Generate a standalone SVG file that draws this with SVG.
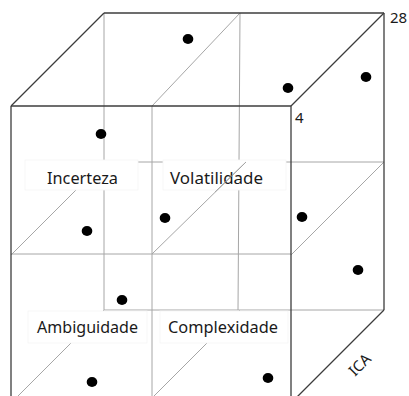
<svg xmlns="http://www.w3.org/2000/svg" width="409" height="396" viewBox="0 0 409 396">
<style>
.dk{stroke:#3c3c3c;stroke-width:1.3;fill:none}
.lt{stroke:#a6a6a6;stroke-width:1;fill:none}
.box{fill:#ffffff;stroke:#f4f4f4;stroke-width:0.8}
.lbl{font-family:"Noto Sans","Open Sans",sans-serif;font-size:16px;fill:#1a1a1a}
.num{font-family:"Noto Sans","Open Sans",sans-serif;font-size:15px;fill:#1a1a1a}
.dot{fill:#000}
</style>
<rect width="409" height="396" fill="#fff"/>
<g id="connectors">
  <line class="lt" x1="104" y1="13" x2="104" y2="310"/>
  <line class="lt" x1="240" y1="13" x2="238" y2="310"/>
  <line class="lt" x1="104" y1="162" x2="384" y2="162"/>
  <line class="lt" x1="104" y1="310" x2="384" y2="310"/>
  <line class="lt" x1="240" y1="13" x2="152" y2="106"/>
  <line class="lt" x1="104" y1="162" x2="11" y2="255"/>
  <line class="lt" x1="384" y1="162" x2="291" y2="255"/>
  <line class="lt" x1="104" y1="310" x2="11" y2="403"/>
  <line class="lt" x1="240" y1="310" x2="148" y2="402"/>
</g>
<g id="label-boxes">
  <rect class="box" x="25" y="160" width="113" height="30"/>
  <rect class="box" x="163" y="160" width="123" height="30"/>
  <rect class="box" x="28" y="311" width="119" height="32"/>
  <rect class="box" x="160" y="311" width="128" height="32"/>
</g>
<g id="front-lines">
  <line class="lt" x1="152" y1="106" x2="152" y2="396"/>
  <line class="lt" x1="11" y1="254" x2="291" y2="254"/>
  <line class="lt" x1="246" y1="162" x2="152" y2="254"/>
  <line class="dk" x1="104" y1="13" x2="384" y2="13"/>
  <line class="dk" x1="104" y1="13" x2="11" y2="106"/>
  <line class="dk" x1="384" y1="13" x2="291" y2="106"/>
  <line class="dk" x1="384" y1="13" x2="384" y2="310"/>
  <line class="dk" x1="384" y1="310" x2="291" y2="403"/>
  <line class="dk" x1="11" y1="106" x2="291" y2="106"/>
  <line class="dk" x1="11" y1="106" x2="11" y2="396"/>
  <line class="dk" x1="291" y1="106" x2="291" y2="396"/>
</g>
<g id="node-incerteza"><text class="lbl" x="47" y="184" textLength="71" lengthAdjust="spacingAndGlyphs">Incerteza</text></g>
<g id="node-volatilidade"><text class="lbl" x="170" y="184" textLength="93" lengthAdjust="spacingAndGlyphs">Volatilidade</text></g>
<g id="node-ambiguidade"><text class="lbl" x="37" y="333" textLength="101" lengthAdjust="spacingAndGlyphs">Ambiguidade</text></g>
<g id="node-complexidade"><text class="lbl" x="168" y="333" textLength="110" lengthAdjust="spacingAndGlyphs">Complexidade</text></g>
<line class="lt" x1="246" y1="162" x2="215" y2="192"/>
<g id="labels">
  <text class="num" x="390" y="23">28</text>
  <text class="num" x="295" y="123">4</text>
  <text class="num" transform="translate(355,377) rotate(-45)">ICA</text>
</g>
<g id="dots">
  <ellipse class="dot" cx="188" cy="39" rx="5.3" ry="5"/>
  <ellipse class="dot" cx="288" cy="88" rx="5.3" ry="5"/>
  <ellipse class="dot" cx="366" cy="77" rx="5.3" ry="5"/>
  <ellipse class="dot" cx="101" cy="134" rx="5.3" ry="5"/>
  <ellipse class="dot" cx="87" cy="231" rx="5.3" ry="5"/>
  <ellipse class="dot" cx="165" cy="218" rx="5.3" ry="5"/>
  <ellipse class="dot" cx="302" cy="217" rx="5.3" ry="5"/>
  <ellipse class="dot" cx="358" cy="270" rx="5.3" ry="5"/>
  <ellipse class="dot" cx="122" cy="300" rx="5.3" ry="5"/>
  <ellipse class="dot" cx="92" cy="382" rx="5.3" ry="5"/>
  <ellipse class="dot" cx="268" cy="378" rx="5.3" ry="5"/>
</g>
</svg>
